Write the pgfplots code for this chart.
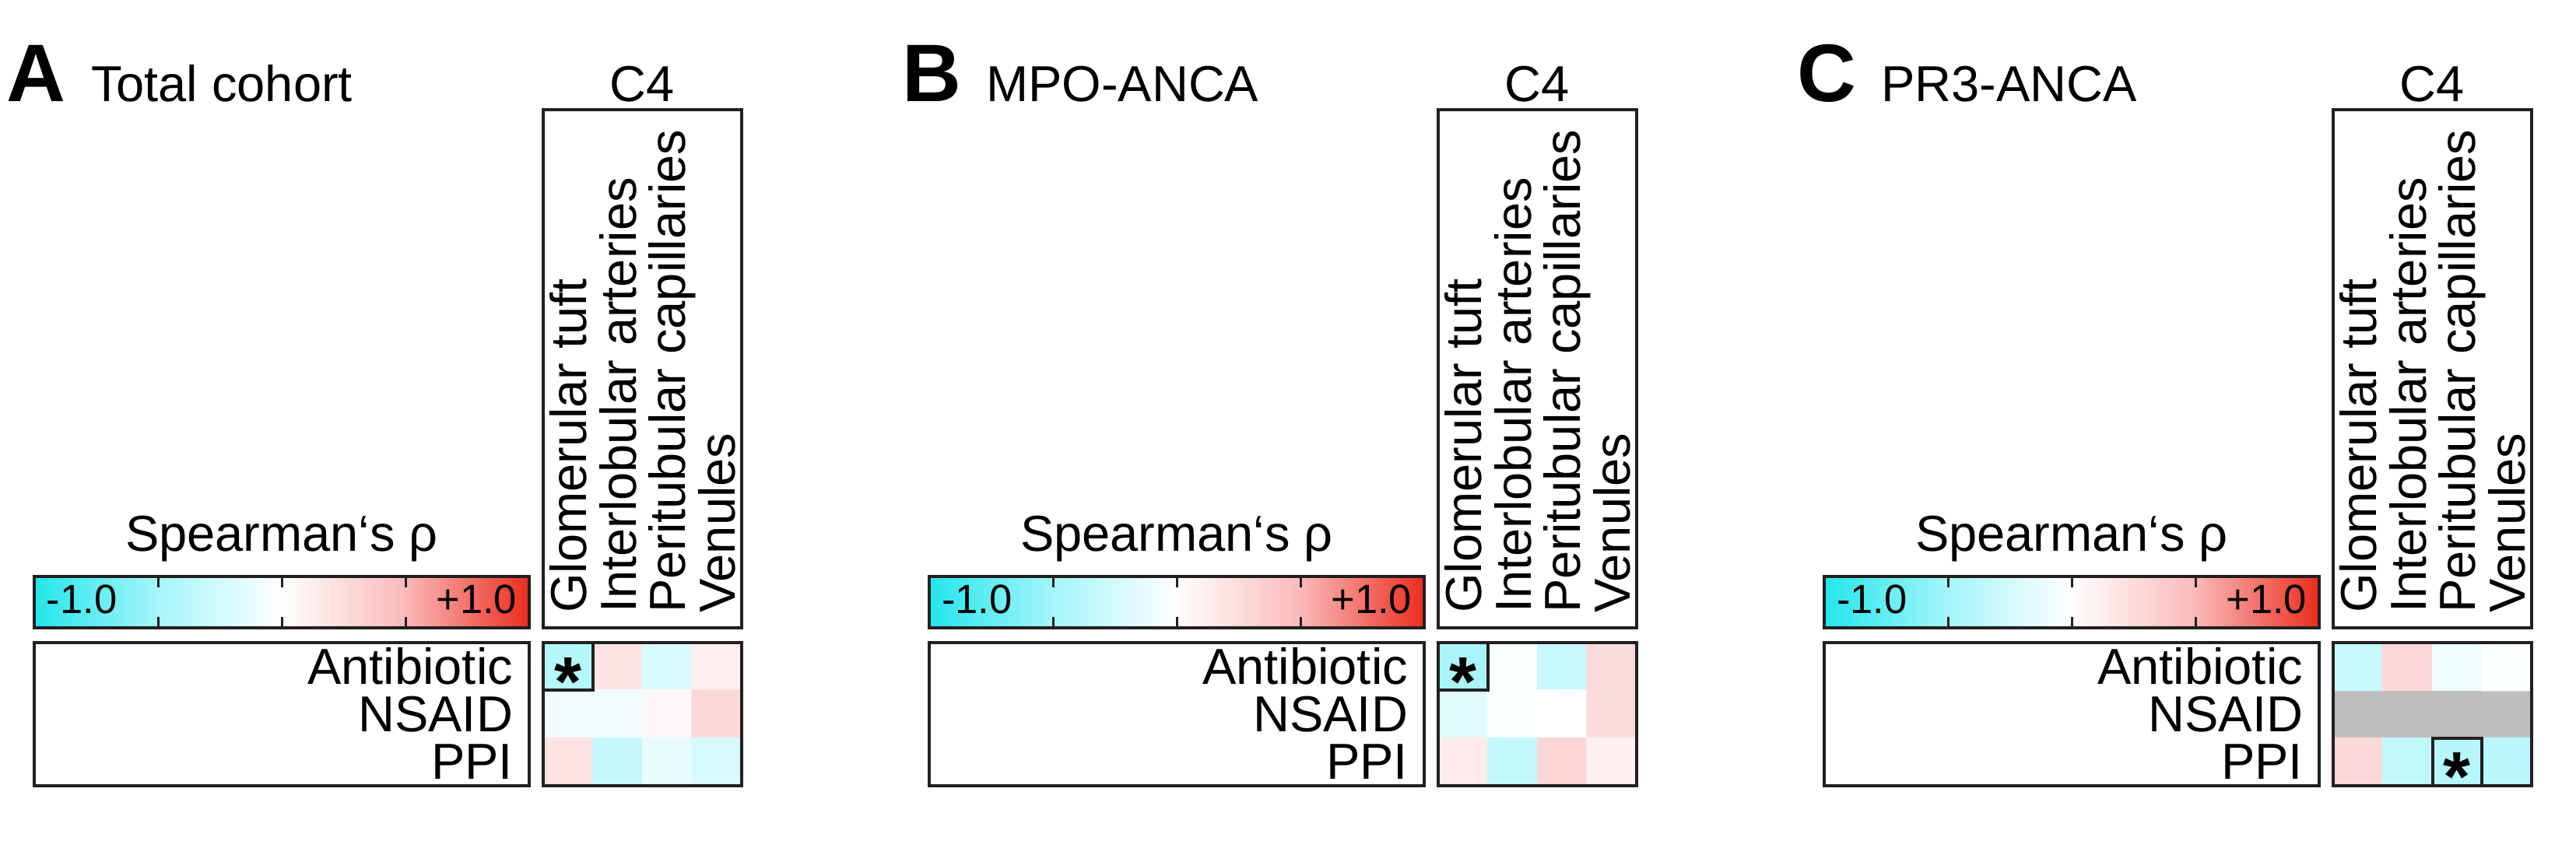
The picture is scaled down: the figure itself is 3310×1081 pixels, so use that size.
\documentclass[border=0pt]{standalone}
\usepackage{fontspec}
\setmainfont{Liberation Sans}
\usepackage{pgfplots}
\pgfplotsset{compat=1.18}
\definecolor{frame}{HTML}{231F20}
\definecolor{nagray}{HTML}{BEBEBE}

\pgfplotstableread{
x y v
0 0 -0.41
1 0 0.20
2 0 -0.22
3 0 0.12
0 1 -0.08
1 1 -0.08
2 1 0.05
3 1 0.28
0 2 0.20
1 2 -0.33
2 2 -0.13
3 2 -0.22
}\tabA
\pgfplotstableread{
x y v
0 0 -0.48
1 0 -0.02
2 0 -0.30
3 0 0.26
0 1 -0.17
1 1 -0.02
2 1 0.00
3 1 0.26
0 2 0.15
1 2 -0.35
2 2 0.30
3 2 0.11
}\tabB
\pgfplotstableread{
x y v
0 0 -0.32
1 0 0.28
2 0 -0.10
3 0 -0.02
0 1 nan
1 1 nan
2 1 nan
3 1 nan
0 2 0.28
1 2 -0.35
2 2 -0.40
3 2 -0.38
}\tabC

\pgfplotsset{
 hm/.style={
  scale only axis, width=51pt, height=36.8pt,
  xmin=-0.5, xmax=3.5, ymin=-0.5, ymax=2.5, y dir=reverse, enlargelimits=false,
  axis on top,
  axis line style={line width=0.8pt, draw=frame},
  xtick={0,1,2,3},
  xticklabels={Glomerular tuft,Interlobular arteries,Peritubular capillaries,Venules},
  xticklabel pos=right,
  xticklabel style={yshift=7.4pt, rotate=90, anchor=west, inner sep=0pt, text depth=0pt},
  ytick={0,1,2}, yticklabels={Antibiotic,NSAID,PPI},
  yticklabel style={anchor=east, inner sep=0pt, xshift=-7.6pt},
  major tick length=0pt,
  colormap={cwr}{rgb255=(35,230,235) rgb255=(165,245,250) rgb255=(255,255,255) rgb255=(250,185,185) rgb255=(235,45,30)},
  point meta min=-1, point meta max=1,
  unbounded coords=jump,
  colorbar horizontal,
  colorbar shift/.style={},
  colorbar style={
    anchor=south east,
    scale only axis, width=127.2pt, height=13.2pt,
    y dir=normal,
    xtick={-0.5,0,0.5}, xticklabels={,,}, xtick pos=both, tick align=inside,
    major tick length=2.8pt,
    tick style={line width=0.6pt, draw=frame},
    axis line style={line width=0.8pt, draw=frame},
    extra description/.code={
      \node[anchor=base west, inner sep=0pt, font=\fontsize{10.5}{12}\selectfont] at ([xshift=3.0pt, yshift=3.6pt]rel axis cs:0,0) {-1.0};
      \node[anchor=base east, inner sep=0pt, font=\fontsize{10.5}{12}\selectfont] at ([xshift=-3.0pt, yshift=3.6pt]rel axis cs:1,0) {+1.0};
    },
  },
 },
 star/.style={draw=none, mark=none, nodes near coords={*}, every node near coord/.append style={anchor=center, inner sep=0pt, font=\fontsize{18}{20}\selectfont\bfseries, yshift=-3.9pt}},
}

\begin{document}
\begin{tikzpicture}[x=0.2pt, y=0.2pt, font=\fontsize{13}{15.6}\selectfont]
\useasboundingbox (0,0) rectangle (3310,1081);
\coordinate (pA) at (698,255);
\coordinate (pB) at (1848,255);
\coordinate (pC) at (2998,255);
\coordinate (cA) at (680,274);
\coordinate (cB) at (1830,274);
\coordinate (cC) at (2980,274);

% ---------- Panel A ----------
\node[anchor=base west, inner sep=0pt, font=\fontsize{21}{24}\selectfont\bfseries] at (8,950) {A};
\node[anchor=base west, inner sep=0pt] at (116,950) {Total cohort};
\node[anchor=base, inner sep=0pt] at (825,950) {C4};
\draw[line width=0.8pt, frame] (698,940) rectangle (953,274);
\node[anchor=base, inner sep=0pt] at (362,372) {Spearman‘s ρ};
\draw[line width=0.8pt, frame] (44,255) rectangle (680,71);

% ---------- Panel B ----------
\node[anchor=base west, inner sep=0pt, font=\fontsize{21}{24}\selectfont\bfseries] at (1158,950) {B};
\node[anchor=base west, inner sep=0pt] at (1266,950) {MPO-ANCA};
\node[anchor=base, inner sep=0pt] at (1975,950) {C4};
\draw[line width=0.8pt, frame] (1848,940) rectangle (2103,274);
\node[anchor=base, inner sep=0pt] at (1512,372) {Spearman‘s ρ};
\draw[line width=0.8pt, frame] (1194,255) rectangle (1830,71);

% ---------- Panel C ----------
\node[anchor=base west, inner sep=0pt, font=\fontsize{21}{24}\selectfont\bfseries] at (2308,950) {C};
\node[anchor=base west, inner sep=0pt] at (2416,950) {PR3-ANCA};
\node[anchor=base, inner sep=0pt] at (3125,950) {C4};
\draw[line width=0.8pt, frame] (2998,940) rectangle (3253,274);
\node[anchor=base, inner sep=0pt] at (2662,372) {Spearman‘s ρ};
\draw[line width=0.8pt, frame] (2344,255) rectangle (2980,71);

\begin{axis}[hm, at={(pA)}, anchor=north west, colorbar style={at={(cA)}}]
\addplot[matrix plot*, mesh/cols=4, point meta=explicit] table[meta=v] {\tabA};
\draw[line width=0.8pt, frame] (axis cs:-0.5,-0.5) rectangle (axis cs:0.5,0.5);
\addplot[star] coordinates {(0,0)};
\end{axis}

\begin{axis}[hm, at={(pB)}, anchor=north west, colorbar style={at={(cB)}}]
\addplot[matrix plot*, mesh/cols=4, point meta=explicit] table[meta=v] {\tabB};
\draw[line width=0.8pt, frame] (axis cs:-0.5,-0.5) rectangle (axis cs:0.5,0.5);
\addplot[star] coordinates {(0,0)};
\end{axis}

\begin{axis}[hm, at={(pC)}, anchor=north west, axis background/.style={fill=nagray}, colorbar style={at={(cC)}}]
\addplot[matrix plot*, mesh/cols=4, point meta=explicit] table[meta=v] {\tabC};
\draw[line width=0.8pt, frame] (axis cs:1.5,1.5) rectangle (axis cs:2.5,2.5);
\addplot[star] coordinates {(2,2)};
\end{axis}
\end{tikzpicture}
\end{document}
